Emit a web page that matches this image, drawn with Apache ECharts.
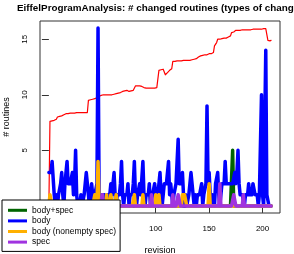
<!DOCTYPE html>
<html>
<head>
<meta charset="utf-8">
<script src="https://cdn.jsdelivr.net/npm/echarts@6/dist/echarts.min.js"></script>
<style>
html,body{margin:0;padding:0;background:#fff;}
#chart{width:294px;height:254px;}
</style>
</head>
<body>
<div id="chart"></div>
<script>
// ---- data (index = revision 0..208) ----
const titleText = "EiffelProgramAnalysis: # changed routines (types of changes)";
const xTicks = [0, 50, 100, 150, 200];
const yTicks = [0, 5, 10, 15];
const legendNames = ["body+spec", "body", "body (nonempty spec)", "spec"];

const avgLine = [
0, 7.6, 7.6, 7.65, 7.7, 7.7, 7.75, 7.8, 8.0, 8.0,
8.05, 8.1, 8.1, 8.2, 8.2, 8.25, 8.3, 8.3, 8.3, 8.35,
8.35, 8.35, 8.35, 8.35, 8.35, 8.4, 8.4, 8.4, 8.4, 8.4,
8.4, 8.4, 8.4, 8.4, 8.4, 8.4, 8.4, 9.5, 9.5, 9.55,
9.6, 9.6, 9.6, 9.65, 9.7, 9.75, 9.8, 9.85, 9.9, 9.95,
10.0, 10.0, 10.0, 10.0, 10.0, 10.0, 10.0, 10.0, 10.0, 10.0,
10.0, 10.05, 10.05, 10.1, 10.1, 10.15, 10.2, 10.2, 10.25, 10.3,
10.3, 10.35, 10.35, 10.4, 10.35, 10.3, 10.3, 10.35, 10.4, 10.4,
10.45, 10.8, 10.8, 10.8, 10.8, 10.8, 10.8, 10.75, 10.7, 10.65,
10.6, 10.6, 10.6, 10.6, 10.6, 10.6, 10.6, 10.6, 10.6, 10.6,
10.6, 10.65, 10.65, 12.2, 12.2, 12.25, 12.3, 12.3, 12.3, 11.8,
11.9, 12.0, 12.1, 12.2, 12.3, 12.35, 13.0, 13.0, 13.0, 13.0,
13.05, 13.05, 13.05, 13.05, 13.05, 13.05, 13.1, 13.1, 13.1, 13.1,
13.1, 13.1, 13.1, 13.15, 13.15, 13.15, 13.2, 13.2, 13.25, 13.3,
13.4, 13.5, 13.5, 13.5, 13.55, 13.55, 13.6, 13.6, 13.6, 13.65,
13.7, 13.7, 13.7, 13.75, 13.8, 14.4, 14.5, 14.7, 15.0, 15.0,
15.0, 15.0, 15.05, 15.05, 15.1, 15.1, 15.1, 15.15, 15.2, 15.3,
15.3, 15.6, 15.6, 15.65, 15.7, 15.8, 15.8, 15.8, 15.8, 15.8,
15.8, 15.85, 15.85, 15.85, 15.85, 15.85, 15.85, 15.85, 15.85, 15.85,
15.85, 15.9, 15.9, 15.9, 15.9, 15.9, 15.9, 15.9, 15.9, 15.9,
15.95, 15.95, 15.95, 15.95, 15.95, 14.9, 14.85, 14.85, 14.9
];

const bodySpec = [
0,0,0,0,0,0,0,0,0,0,
0,0,0,0,0,0,0,0,0,0,
0,0,0,0,0,0,0,0,0,0,
0,0,0,0,0,0,0,0,0,0,
0,0,0,0,0,0,0,0,0,0,
0,0,0,0,0,0,0,0,0,0,
0,0,0,0,0,0,0,0,0,0,
0,0,0,0,0,0,0,0,0,0,
0,0,0,0,0,0,0,0,0,0,
0,0,0,0,0,0,0,0,0,0,
0,0,0,0,0,0,0,0,0,0,
0,0,0,0,0,0,0,0,0,0,
0,0,0,0,0,0,0,0,0,0,
0,0,0,0,0,0,0,0,0,0,
0,0,0,0,0,0,0,0,0,0,
0,0,0,0,0,0,0,0,0,0,
0,0,0,0,0,0,0,0,0,0,
0,0,5,0,0,0,0,0,0,0,
0,0,0,0,0,0,0,0,0,0,
0,0,0,0,0,0,0,0,0,0,
0,0,0,0,0,0,0,0,0
];

const body = [
3,3,3,4,4,1,0,1,0,1,
1,2,3,1,0,2,3,4,2,2,
2,2,3,1,2,5,1,0,0,0,
1,0,0,1,2,3,3,1,0,1,
2,1,0,1,1,2,16,1,0,0,
1,0,1,1,0,1,1,1,2,1,
1,3,1,0,1,1,1,2,4,1,
0,1,1,1,2,0,1,1,1,2,
4,1,0,1,1,2,1,1,4,1,
0,1,1,1,2,0,0,1,1,2,
1,0,1,1,3,1,0,1,2,2,
2,2,4,1,2,1,0,1,1,2,
4,6,2,2,2,3,1,0,1,0,
0,1,2,3,2,2,0,1,0,1,
1,1,1,2,0,1,1,2,9,2,
3,1,0,1,1,0,2,2,3,1,
0,1,2,2,2,4,2,2,2,2,
2,2,2,2,3,2,3,5,2,1,
1,1,1,0,1,1,1,2,1,1,
1,2,2,1,1,1,0,1,1,10,
1,0,0,14,1,1,0,0,0
];

const bodyNonemptySpec = [
0,1,1,0,0,0,0,0,0,0,
0,0,0,0,0,0,0,0,0,0,
0,0,0,0,0,0,0,0,0,0,
0,0,0,0,0,0,0,0,0,0,
0,0,0,1,1,0,4,0,0,0,
0,0,0,0,1,0,0,0,1,0,
0,0,0,1,0,0,0,0,0,0,
0,0,0,0,0,0,0,0,0,0,
1,0,0,0,0,0,0,0,1,0,
0,0,0,0,0,0,0,0,0,0,
1,0,0,1,0,0,0,0,0,0,
0,0,0,0,0,0,0,0,0,0,
0,0,0,0,0,1,1,1,1,0,
0,0,0,0,0,0,0,0,0,0,
0,0,0,0,0,0,0,0,0,0,
2,0,0,0,0,0,0,0,0,0,
0,0,0,0,0,0,0,0,0,0,
0,0,0,0,0,0,0,0,0,0,
0,0,0,0,0,0,0,0,0,0,
0,0,0,0,0,0,0,0,0,0,
0,0,0,0,0,0,0,0,0
];

const spec = [
0,0,0,0,0,0,0,0,0,0,
0,0,0,0,0,0,0,0,0,0,
0,0,0,0,0,0,0,0,0,0,
0,0,0,0,0,0,0,0,0,0,
0,0,0,0,0,0,0,0,0,0,
1,0,0,0,0,0,0,0,0,0,
0,0,0,0,0,0,0,0,0,0,
0,0,0,0,0,0,0,0,0,0,
0,0,0,0,0,0,0,0,0,0,
0,0,0,0,0,0,1,0,0,0,
0,0,0,0,0,0,0,0,0,0,
0,0,0,0,0,0,1,0,0,0,
0,1,1,0,0,0,0,0,0,0,
0,0,0,0,0,0,0,0,0,0,
0,0,0,0,0,0,0,0,0,0,
0,0,0,0,0,0,0,0,0,0,
2,0,0,0,0,0,0,0,0,0,
0,0,0,1,1,0,0,0,0,0,
0,0,1,0,0,0,0,0,0,0,
0,0,0,0,0,0,0,0,0,0,
0,0,0,0,0,0,0,0,0
];

// ---- chart ----
const FONT = "'Liberation Sans', Arial, Helvetica, sans-serif";
function pairs(arr) { return arr.map(function (v, i) { return [i, v]; }); }
function lineSeries(name, arr, color, width) {
  return {
    name: name, type: 'line', data: pairs(arr),
    showSymbol: false, symbol: 'none', silent: true,
    color: color,
    itemStyle: { color: color },
    lineStyle: { color: color, width: width, cap: 'round', join: 'round' }
  };
}

const chart = echarts.init(document.getElementById('chart'), null, { renderer: 'canvas' });
chart.setOption({
  animation: false,
  backgroundColor: '#ffffff',
  title: {
    text: titleText, left: 17, top: 3.5, padding: 0,
    textStyle: { fontFamily: FONT, fontSize: 9.85, fontWeight: 'bold', color: '#000' }
  },
  grid: {
    left: 40, right: 14, top: 21, bottom: 41,
    outerBoundsMode: 'none', containLabel: false,
    show: true, borderColor: '#333', borderWidth: 1, backgroundColor: 'transparent'
  },
  xAxis: {
    type: 'value', min: -8.32, max: 216.32,
    name: 'revision', nameLocation: 'middle', nameGap: 33,
    nameTextStyle: { fontFamily: FONT, fontSize: 9, color: '#000' },
    splitLine: { show: false },
    axisLine: { show: false },
    axisTick: { show: true, length: 7, customValues: xTicks, lineStyle: { color: '#333' } },
    axisLabel: { customValues: xTicks, fontFamily: FONT, fontSize: 8, color: '#000', margin: 12 }
  },
  yAxis: {
    type: 'value', min: -0.64, max: 16.64,
    name: '# routines', nameLocation: 'middle', nameGap: 29,
    nameTextStyle: { fontFamily: FONT, fontSize: 9, color: '#000' },
    splitLine: { show: false },
    axisLine: { show: false },
    axisTick: { show: true, length: 7, customValues: yTicks, lineStyle: { color: '#333' } },
    axisLabel: { customValues: yTicks, rotate: 90, fontFamily: FONT, fontSize: 8, color: '#000', margin: 11 }
  },
  legend: {
    data: legendNames, orient: 'vertical', left: 2, top: 200,
    padding: [5, 4, 4, 6], itemWidth: 19, itemHeight: 3, itemGap: 0,
    icon: 'rect', selectedMode: false,
    backgroundColor: '#fff', borderColor: '#000', borderWidth: 1, borderRadius: 0,
    textStyle: { fontFamily: FONT, fontSize: 8.5, lineHeight: 10.6, color: '#000', padding: 0 }
  },
  series: [
    lineSeries('average', avgLine, '#ff0000', 1.2),
    lineSeries('body+spec', bodySpec, '#006400', 3.5),
    lineSeries('body', body, '#0000ff', 3.5),
    lineSeries('body (nonempty spec)', bodyNonemptySpec, '#ffb000', 3.5),
    lineSeries('spec', spec, '#a033e0', 3.5)
  ]
});
</script>
</body>
</html>
